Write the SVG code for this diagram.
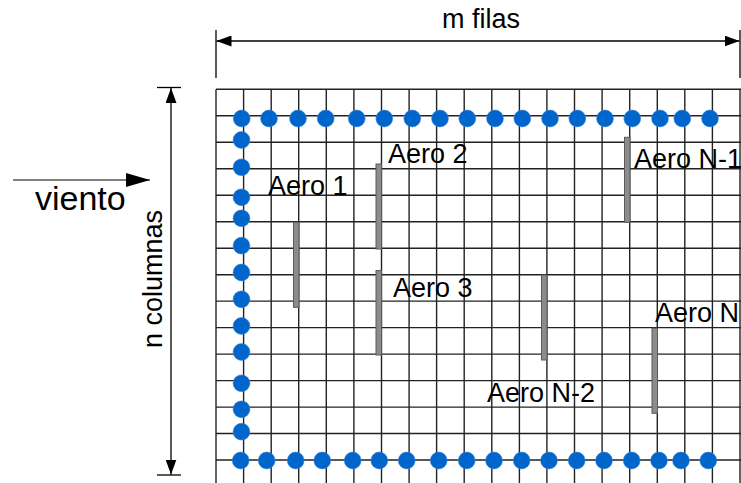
<svg xmlns="http://www.w3.org/2000/svg" width="741" height="483" viewBox="0 0 741 483">
<style>
.grid line{stroke:#222;stroke-width:1.4}
.dot{fill:#0066cc;stroke:#3a7fd0;stroke-width:0.6}
.bar{fill:#8c8c8c;stroke:#5a5a5a;stroke-width:1}
.lbl{font-family:"Liberation Sans",Arial,sans-serif;font-size:27px;fill:#000}
.dim{stroke:#000;stroke-width:1.3;fill:none}
</style>
<defs>
<marker id="ah" viewBox="0 0 15 11" refX="15" refY="5.5" markerWidth="15" markerHeight="11" markerUnits="userSpaceOnUse" orient="auto-start-reverse">
<path d="M0,0 L15,5.5 L0,11 Z" fill="#000"/>
</marker>
<marker id="ahw" viewBox="0 0 24 14" refX="24" refY="7" markerWidth="24" markerHeight="14" markerUnits="userSpaceOnUse" orient="auto">
<path d="M0,0 L24,7 L0,14 Z" fill="#000"/>
</marker>
</defs>
<rect width="741" height="483" fill="#fff"/>
<g id="grid" class="grid">
<line x1="216" y1="89.3" x2="216" y2="483"/>
<line x1="243.6" y1="89.3" x2="243.6" y2="483"/>
<line x1="271.2" y1="89.3" x2="271.2" y2="483"/>
<line x1="298.7" y1="89.3" x2="298.7" y2="483"/>
<line x1="326.3" y1="89.3" x2="326.3" y2="483"/>
<line x1="353.9" y1="89.3" x2="353.9" y2="483"/>
<line x1="381.5" y1="89.3" x2="381.5" y2="483"/>
<line x1="409.1" y1="89.3" x2="409.1" y2="483"/>
<line x1="436.6" y1="89.3" x2="436.6" y2="483"/>
<line x1="464.2" y1="89.3" x2="464.2" y2="483"/>
<line x1="491.8" y1="89.3" x2="491.8" y2="483"/>
<line x1="519.4" y1="89.3" x2="519.4" y2="483"/>
<line x1="546.9" y1="89.3" x2="546.9" y2="483"/>
<line x1="574.5" y1="89.3" x2="574.5" y2="483"/>
<line x1="602.1" y1="89.3" x2="602.1" y2="483"/>
<line x1="629.7" y1="89.3" x2="629.7" y2="483"/>
<line x1="657.3" y1="89.3" x2="657.3" y2="483"/>
<line x1="684.8" y1="89.3" x2="684.8" y2="483"/>
<line x1="712.4" y1="89.3" x2="712.4" y2="483"/>
<line x1="740" y1="89.3" x2="740" y2="483"/>
<line x1="216" y1="89.3" x2="741" y2="89.3"/>
<line x1="216" y1="115.8" x2="741" y2="115.8"/>
<line x1="216" y1="142.3" x2="741" y2="142.3"/>
<line x1="216" y1="168.7" x2="741" y2="168.7"/>
<line x1="216" y1="195.2" x2="741" y2="195.2"/>
<line x1="216" y1="221.7" x2="741" y2="221.7"/>
<line x1="216" y1="248.2" x2="741" y2="248.2"/>
<line x1="216" y1="274.7" x2="741" y2="274.7"/>
<line x1="216" y1="301.1" x2="741" y2="301.1"/>
<line x1="216" y1="327.6" x2="741" y2="327.6"/>
<line x1="216" y1="354.1" x2="741" y2="354.1"/>
<line x1="216" y1="380.6" x2="741" y2="380.6"/>
<line x1="216" y1="407.1" x2="741" y2="407.1"/>
<line x1="216" y1="433.5" x2="741" y2="433.5"/>
<line x1="216" y1="460" x2="741" y2="460"/>
</g>
<g id="nodos">
<g id="fila-superior">
<circle class="dot" cx="241.7" cy="118.5" r="8.4"/>
<circle class="dot" cx="269" cy="118.5" r="8.4"/>
<circle class="dot" cx="298" cy="118.5" r="8.4"/>
<circle class="dot" cx="325.7" cy="118.5" r="8.4"/>
<circle class="dot" cx="356.7" cy="118.5" r="8.4"/>
<circle class="dot" cx="384.3" cy="118.5" r="8.4"/>
<circle class="dot" cx="412.3" cy="118.5" r="8.4"/>
<circle class="dot" cx="440" cy="118.5" r="8.4"/>
<circle class="dot" cx="467.3" cy="118.5" r="8.4"/>
<circle class="dot" cx="495" cy="118.5" r="8.4"/>
<circle class="dot" cx="522.3" cy="118.5" r="8.4"/>
<circle class="dot" cx="550" cy="118.5" r="8.4"/>
<circle class="dot" cx="577.3" cy="118.5" r="8.4"/>
<circle class="dot" cx="605" cy="118.5" r="8.4"/>
<circle class="dot" cx="632.3" cy="118.5" r="8.4"/>
<circle class="dot" cx="660" cy="118.5" r="8.4"/>
<circle class="dot" cx="682.3" cy="118.5" r="8.4"/>
<circle class="dot" cx="710" cy="118.5" r="8.4"/>
</g>
<g id="columna-izquierda">
<circle class="dot" cx="241.5" cy="140" r="8.4"/>
<circle class="dot" cx="241.5" cy="167.3" r="8.4"/>
<circle class="dot" cx="241.5" cy="197.3" r="8.4"/>
<circle class="dot" cx="241.5" cy="218.3" r="8.4"/>
<circle class="dot" cx="241.5" cy="245.7" r="8.4"/>
<circle class="dot" cx="241.5" cy="272.5" r="8.4"/>
<circle class="dot" cx="241.5" cy="299.3" r="8.4"/>
<circle class="dot" cx="241.5" cy="326" r="8.4"/>
<circle class="dot" cx="241.5" cy="352" r="8.4"/>
<circle class="dot" cx="241.5" cy="383.3" r="8.4"/>
<circle class="dot" cx="241.5" cy="409.3" r="8.4"/>
<circle class="dot" cx="241.5" cy="431.7" r="8.4"/>
</g>
<g id="fila-inferior">
<circle class="dot" cx="240.7" cy="460.5" r="8.4"/>
<circle class="dot" cx="266.7" cy="460.5" r="8.4"/>
<circle class="dot" cx="295.7" cy="460.5" r="8.4"/>
<circle class="dot" cx="322.3" cy="460.5" r="8.4"/>
<circle class="dot" cx="352.7" cy="460.5" r="8.4"/>
<circle class="dot" cx="379.3" cy="460.5" r="8.4"/>
<circle class="dot" cx="406.7" cy="460.5" r="8.4"/>
<circle class="dot" cx="438.7" cy="460.5" r="8.4"/>
<circle class="dot" cx="466.7" cy="460.5" r="8.4"/>
<circle class="dot" cx="494" cy="460.5" r="8.4"/>
<circle class="dot" cx="521.7" cy="460.5" r="8.4"/>
<circle class="dot" cx="549" cy="460.5" r="8.4"/>
<circle class="dot" cx="576.7" cy="460.5" r="8.4"/>
<circle class="dot" cx="604" cy="460.5" r="8.4"/>
<circle class="dot" cx="631.7" cy="460.5" r="8.4"/>
<circle class="dot" cx="659" cy="460.5" r="8.4"/>
<circle class="dot" cx="681" cy="460.5" r="8.4"/>
<circle class="dot" cx="708.3" cy="460.5" r="8.4"/>
</g>
</g>
<g id="aero-1"><rect class="bar" x="293.5" y="222.3" width="5.5" height="85"/><text class="lbl" x="268" y="195">Aero 1</text></g>
<g id="aero-2"><rect class="bar" x="376" y="164" width="5.5" height="85"/><text class="lbl" x="388" y="163">Aero 2</text></g>
<g id="aero-3"><rect class="bar" x="376" y="270.5" width="5.5" height="84.5"/><text class="lbl" x="393" y="297">Aero 3</text></g>
<g id="aero-n-2"><rect class="bar" x="541.5" y="275" width="5.5" height="85"/><text class="lbl" x="487" y="401.5">Aero N-2</text></g>
<g id="aero-n-1"><rect class="bar" x="624.5" y="137.3" width="5.5" height="85"/><text class="lbl" x="634" y="168.3">Aero N-1</text></g>
<g id="aero-n"><rect class="bar" x="652" y="328.3" width="5.5" height="85"/><text class="lbl" x="655" y="321.7">Aero N</text></g>
<g id="etiquetas">
<text class="lbl" x="481" y="28" text-anchor="middle">m filas</text>
<text class="lbl" x="0" y="0" text-anchor="middle" transform="translate(162,279) rotate(-90)">n columnas</text>
<text class="lbl" x="35" y="210" style="font-size:34px">viento</text>
</g>
<g id="conectores">
<line class="dim" x1="216" y1="30" x2="216" y2="78"/>
<line class="dim" x1="740" y1="30" x2="740" y2="78"/>
<line class="dim" x1="216.5" y1="41" x2="739.5" y2="41" marker-start="url(#ah)" marker-end="url(#ah)"/>
<line class="dim" x1="157" y1="87.5" x2="181" y2="87.5"/>
<line class="dim" x1="157" y1="475" x2="181" y2="475"/>
<line class="dim" x1="171" y1="88" x2="171" y2="474.5" marker-start="url(#ah)" marker-end="url(#ah)"/>
<line x1="13" y1="180" x2="150" y2="180" stroke="#555" stroke-width="1.3" marker-end="url(#ahw)"/>
</g>
</svg>
